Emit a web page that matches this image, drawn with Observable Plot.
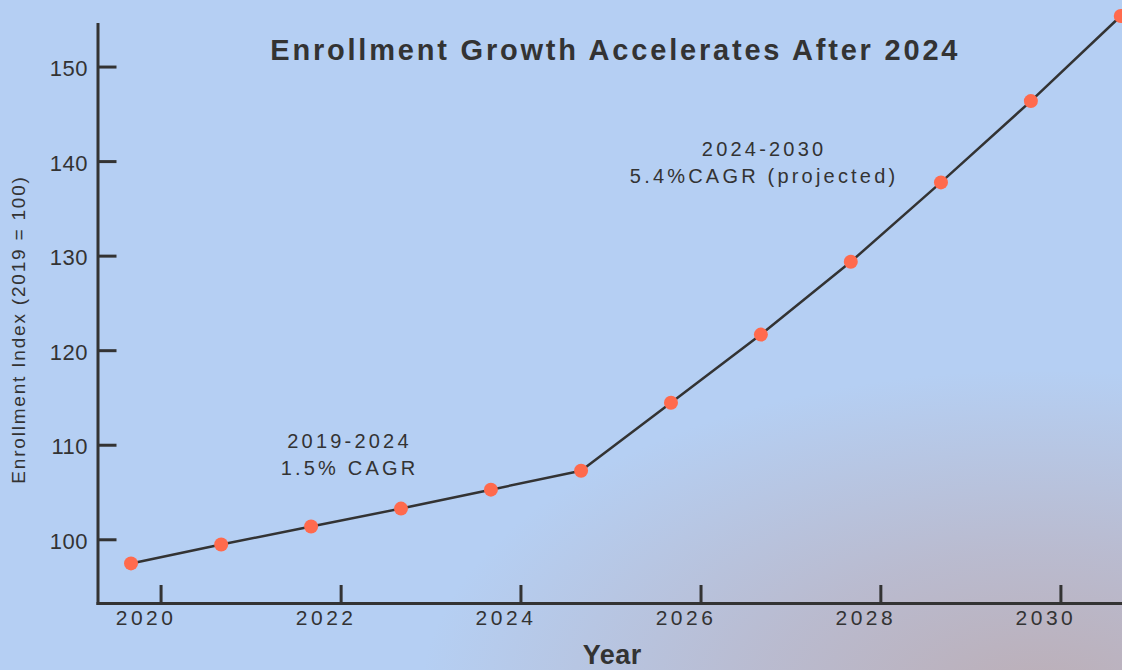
<!DOCTYPE html>
<html>
<head>
<meta charset="utf-8">
<script src="https://cdn.jsdelivr.net/npm/d3@7"></script>
<script src="https://cdn.jsdelivr.net/npm/@observablehq/plot@0.6"></script>
<style>
  html, body { margin: 0; padding: 0; }
  body {
    width: 1122px; height: 670px; overflow: hidden;
    background:
      radial-gradient(ellipse 620px 330px at 1040px 700px, rgba(188,174,182,1) 0%, rgba(188,176,188,0.65) 45%, rgba(185,190,215,0) 100%),
      #b5cff3;
    font-family: "Liberation Sans", Arial, sans-serif;
  }
  #chart svg { display: block; }
</style>
</head>
<body>
<div id="chart"></div>
<script>
// ---- data ----
const years = [2019, 2020, 2021, 2022, 2023, 2024, 2025, 2026, 2027, 2028, 2029, 2030];
const enrollmentIndex = [97.5, 99.5, 101.4, 103.3, 105.3, 107.3, 114.5, 121.7, 129.4, 137.8, 146.4, 155.4];
const xTickYears = [2020, 2022, 2024, 2026, 2028, 2030];
const yTicks = [100, 110, 120, 130, 140, 150];
const annotationText = ["2019-2024\n1.5% CAGR", "2024-2030\n5.4%CAGR (projected)"];
const annotationDate = ["2022-02-04", "2026-09-14"];
const annotationValue = [109.2, 140.1];
const titleText = "Enrollment Growth Accelerates After 2024";
const xLabel = "Year";
const yLabel = "Enrollment Index (2019 = 100)";

// ---- tables ----
const data = years.map((y, i) => ({date: new Date(Date.UTC(y, 8, 1)), value: enrollmentIndex[i]}));
const xTicks = xTickYears.map(y => new Date(Date.UTC(y, 0, 1)));
const notes = annotationText.map((t, i) => ({text: t, date: new Date(annotationDate[i]), value: annotationValue[i]}));

const W = 1122, H = 670, mL = 97.5, mR = 0, mT = 24, mB = 67;
const ink = "#333333";

const chart = Plot.plot({
  width: W, height: H,
  marginLeft: mL, marginRight: mR, marginTop: mT, marginBottom: mB,
  style: {background: "transparent", fontFamily: "'Liberation Sans', Arial, sans-serif", color: ink},
  x: {type: "utc", domain: [new Date("2019-04-20"), new Date("2030-09-08")]},
  y: {domain: [93.26, 154.5]},
  marks: [
    Plot.axisY({ticks: yTicks, tickSize: 0, tickPadding: 10, label: null, fontSize: 22, dy: 2, fill: ink}),
    Plot.axisX({ticks: xTicks, tickSize: 0, tickPadding: 7, label: null, tickFormat: d3.utcFormat("%Y"), fontSize: 21, dx: -15, fill: ink}),
    Plot.tickY(yTicks, {y: d => d, stroke: ink, strokeWidth: 3, insetRight: W - mL - mR - 19}),
    Plot.tickX(xTicks, {x: d => d, stroke: ink, strokeWidth: 3, insetTop: H - mT - mB - 18}),
    Plot.frame({anchor: "left", stroke: ink, strokeWidth: 3}),
    Plot.frame({anchor: "bottom", stroke: ink, strokeWidth: 3}),
    Plot.line(data, {x: "date", y: "value", stroke: ink, strokeWidth: 2.5}),
    Plot.dot(data, {x: "date", y: "value", r: 7, fill: "#ff6a4d", stroke: "none"}),
    Plot.text(notes, {x: "date", y: "value", text: "text", fontSize: 20, lineHeight: 1.38, fill: ink, textAnchor: "middle"}),
    Plot.text([titleText], {frameAnchor: "top", textAnchor: "middle", dx: 5, dy: 26, fontSize: 29, fontWeight: "bold", fill: ink, lineAnchor: "middle"}),
    Plot.text([xLabel], {frameAnchor: "bottom", textAnchor: "middle", dx: 2, dy: 52, fontSize: 27, fontWeight: "bold", fill: ink, lineAnchor: "middle"}),
    Plot.text([yLabel], {frameAnchor: "left", textAnchor: "middle", dx: -79.5, dy: 15.5, rotate: -90, fontSize: 19, fill: ink, lineAnchor: "middle"})
  ]
});

// letter-spacing (tracking) of the reference typeface
const svg = d3.select(chart);
svg.selectAll('g[aria-label="x-axis tick label"] text').style("letter-spacing", "3.5px");
svg.selectAll('g[aria-label="y-axis tick label"] text').style("letter-spacing", "0.5px");
const textGroups = svg.selectAll('g[aria-label="text"]').nodes();
const tracking = ["3.2px", "2.8px", "0.5px", "1.8px"];
textGroups.forEach((g, i) => d3.select(g).selectAll("text").style("letter-spacing", tracking[i]));

document.getElementById("chart").appendChild(chart);
</script>
</body>
</html>
